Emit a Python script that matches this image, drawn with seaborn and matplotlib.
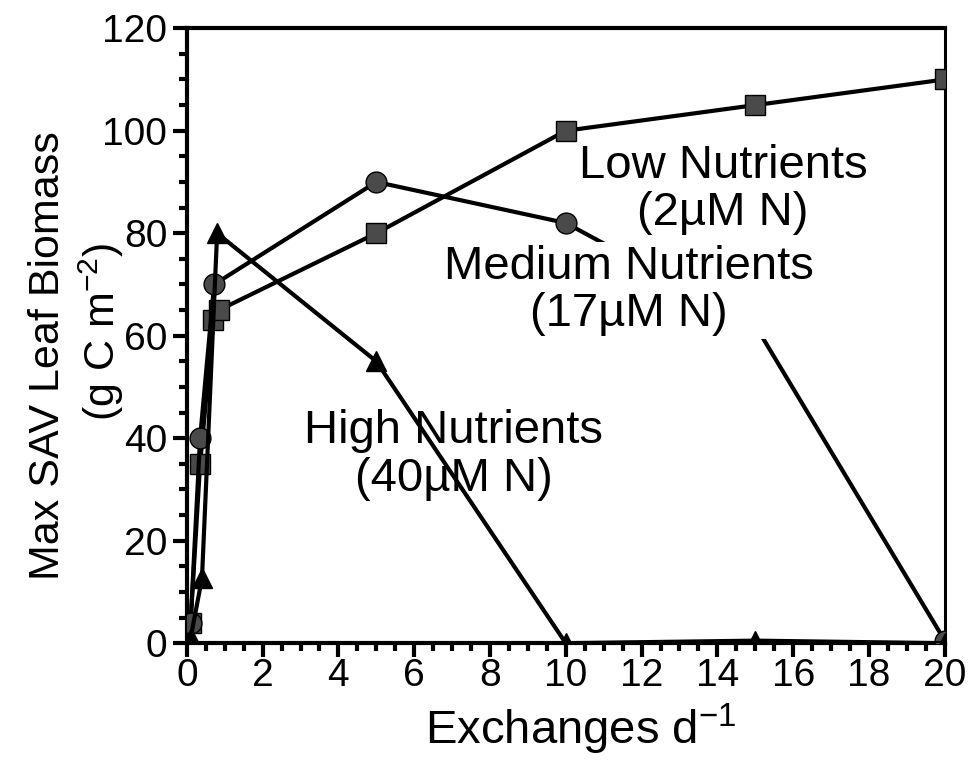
import matplotlib
matplotlib.use("Agg")
import matplotlib.pyplot as plt
from matplotlib.ticker import MultipleLocator
import pandas as pd
import seaborn as sns

# Exchanges per day and max SAV leaf biomass for each nutrient level
low_x = [0.1, 0.35, 0.7, 0.85, 5, 10, 15, 20]
low_y = [4, 35, 63, 65, 80, 100, 105, 110]

med_x = [0.1, 0.35, 0.72, 5, 10, 15, 20]
med_y = [4, 40, 70, 90, 82, 62, 0.5]

high_x = [0.1, 0.4, 0.8, 5, 10, 15, 20]
high_y = [1, 12.7, 80, 55, 0, 0.5, 0]

sns.set_theme(style="ticks")
plt.rcParams["font.family"] = ["Liberation Sans", "DejaVu Sans"]
plt.rcParams["mathtext.default"] = "regular"
plt.rcParams["text.color"] = "black"
plt.rcParams["axes.labelcolor"] = "black"

fig = plt.figure(figsize=(9.73, 7.63), dpi=100)
ax = fig.add_axes([0.192, 0.157, 0.779, 0.806])

series = [
    (low_x, low_y, "s", 14),
    (med_x, med_y, "o", 15),
    (high_x, high_y, "^", 14),
]
for xs, ys, mk, ms in series:
    df = pd.DataFrame({"x": xs, "y": ys})
    sns.lineplot(data=df, x="x", y="y", ax=ax, sort=False, color="black",
                 lw=3, marker=mk, markersize=ms,
                 markerfacecolor="#4a4a4a" if mk != "^" else "black",
                 markeredgecolor="black", markeredgewidth=1.0, zorder=3)

ax.set_xlim(0, 20)
ax.set_ylim(0, 120)
ax.xaxis.set_major_locator(MultipleLocator(2))
ax.xaxis.set_minor_locator(MultipleLocator(0.5))
ax.yaxis.set_major_locator(MultipleLocator(20))
ax.yaxis.set_minor_locator(MultipleLocator(5))
ax.tick_params(axis="both", which="major", direction="out", length=10,
               width=3, labelsize=28, color="black", labelcolor="black")
ax.tick_params(axis="x", which="major", pad=1)
ax.tick_params(axis="y", which="major", pad=4)
ax.tick_params(axis="both", which="minor", direction="out", length=6,
               width=3, color="black")
for side in ["left", "bottom", "top", "right"]:
    ax.spines[side].set_linewidth(2.2 if side == "right" else 3)
    ax.spines[side].set_color("black")
    ax.spines[side].set_visible(True)

ax.set_xlabel("Exchanges d$^{-1}$", fontsize=34)
ax.xaxis.set_label_coords(0.52, -0.095)
ax.set_ylabel("")

# two-line y axis title, each line placed on its own
ax.text(-0.183, 0.468, "Max SAV Leaf Biomass", transform=ax.transAxes,
        rotation=90, ha="center", va="center", fontsize=31)
ax.text(-0.113, 0.506, "(g C m$^{-2}$)", transform=ax.transAxes,
        rotation=90, ha="center", va="center", fontsize=31)

ax.text(14.15, 88.5, "Low Nutrients\n(2µM N)", ha="center", va="center",
        fontsize=34, linespacing=1.1, zorder=2)
ax.text(11.67, 68.8, "Medium Nutrients\n(17µM N)", ha="center",
        va="center", fontsize=34, linespacing=1.1, zorder=4,
        bbox=dict(facecolor="white", edgecolor="none", pad=2))
ax.text(7.05, 36.7, "High Nutrients\n(40µM N)", ha="center", va="center",
        fontsize=34, linespacing=1.1, zorder=2)

fig.savefig("out.png", dpi=100)
